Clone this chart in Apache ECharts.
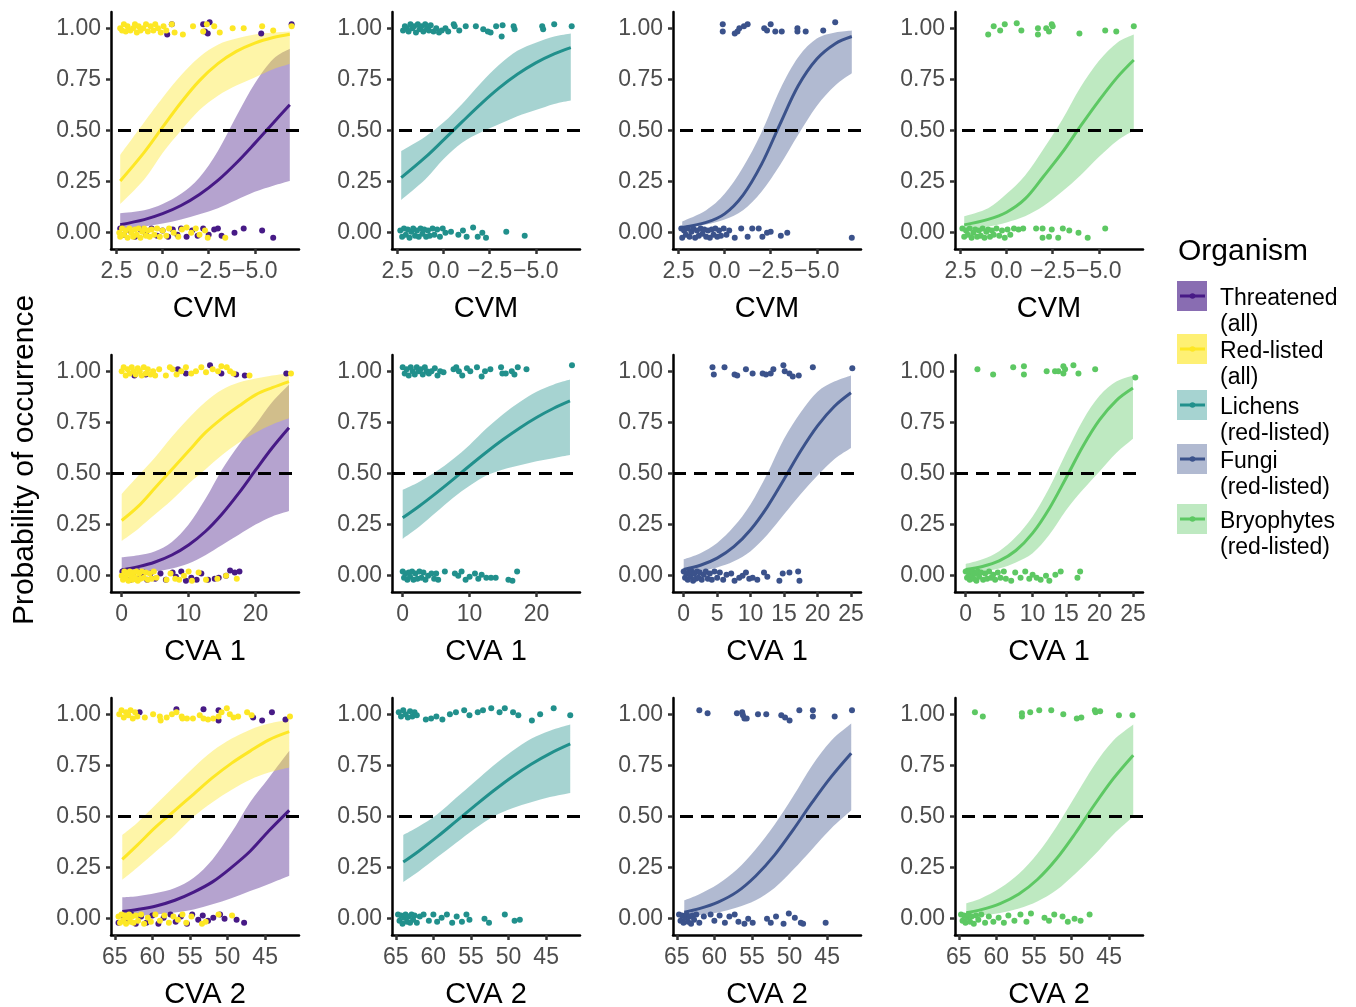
<!DOCTYPE html>
<html>
<head>
<meta charset="utf-8">
<script src="https://cdn.jsdelivr.net/npm/echarts@6/dist/echarts.min.js"></script>
<style>
  html, body { margin: 0; padding: 0; background: #fff; }
  #main { width: 1356px; height: 1007px; }
</style>
</head>
<body>
<div id="main"></div>
<script>
// ---- x grids the fitted curves were read at ----
const cvmX  = [2.3, 1, 0, -1, -2, -3, -4, -5, -6, -6.9];
const cva1X = [0, 2.5, 5, 7.5, 10, 12.5, 15, 17.5, 20, 22.5, 25];
const cva2X = [64, 62, 59.5, 57, 54.5, 52, 49.5, 47, 44.5, 41.8];

// ---- tick labels ----
const probTicks = [0, 0.25, 0.5, 0.75, 1];
const cvmTicks = [2.5, 0, -2.5, -5];
const cva1TicksWide = [0, 10, 20];
const cva1TicksFine = [0, 5, 10, 15, 20, 25];
const cva2Ticks = [65, 60, 55, 50, 45];

// ---- groups ----
const groupNames = ['Threatened\n(all)', 'Red-listed\n(all)', 'Lichens\n(red-listed)', 'Fungi\n(red-listed)', 'Bryophytes\n(red-listed)'];
const groupColors = ['#471A86', '#FDE725', '#21908C', '#3B528B', '#5DC863'];

// ---- CVM: fitted probability, lower, upper ----
const cvmThrFit = [0.039, 0.064, 0.093, 0.133, 0.187, 0.256, 0.341, 0.437, 0.537, 0.626];
const cvmThrLo  = [0.015, 0.03, 0.045, 0.065, 0.09, 0.12, 0.16, 0.2, 0.23, 0.253];
const cvmThrHi  = [0.095, 0.11, 0.14, 0.19, 0.27, 0.4, 0.57, 0.73, 0.85, 0.9];
const cvmRedFit = [0.253, 0.393, 0.516, 0.637, 0.744, 0.827, 0.887, 0.928, 0.955, 0.971];
const cvmRedLo  = [0.14, 0.26, 0.39, 0.5, 0.6, 0.67, 0.72, 0.76, 0.8, 0.825];
const cvmRedHi  = [0.38, 0.54, 0.66, 0.77, 0.86, 0.92, 0.95, 0.97, 0.98, 0.985];
const cvmLicFit = [0.269, 0.368, 0.454, 0.542, 0.628, 0.707, 0.775, 0.831, 0.875, 0.906];
const cvmLicLo  = [0.16, 0.26, 0.36, 0.44, 0.49, 0.53, 0.57, 0.6, 0.63, 0.647];
const cvmLicHi  = [0.4, 0.47, 0.54, 0.63, 0.73, 0.82, 0.89, 0.93, 0.96, 0.975];
const cvmFunFit = [0.025, 0.05, 0.092, 0.184, 0.334, 0.53, 0.72, 0.85, 0.925, 0.96];
const cvmFunLo  = [0.02, 0.04, 0.065, 0.11, 0.2, 0.33, 0.48, 0.62, 0.72, 0.78];
const cvmFunHi  = [0.055, 0.11, 0.19, 0.32, 0.49, 0.7, 0.86, 0.95, 0.98, 0.99];
const cvmBryFit = [0.038, 0.065, 0.1, 0.165, 0.275, 0.39, 0.52, 0.645, 0.76, 0.845];
const cvmBryLo  = [0.015, 0.03, 0.05, 0.08, 0.13, 0.2, 0.28, 0.37, 0.45, 0.5];
const cvmBryHi  = [0.08, 0.12, 0.19, 0.28, 0.41, 0.55, 0.71, 0.84, 0.93, 0.97];

// ---- CVA 1 ----
const cva1ThrFit = [0.028, 0.044, 0.067, 0.101, 0.15, 0.216, 0.302, 0.404, 0.516, 0.626, 0.724];
const cva1ThrLo  = [0.008, 0.012, 0.02, 0.035, 0.06, 0.1, 0.15, 0.2, 0.25, 0.29, 0.316];
const cva1ThrHi  = [0.09, 0.1, 0.12, 0.165, 0.25, 0.375, 0.52, 0.64, 0.74, 0.85, 0.935];
const cva1RedFit = [0.27, 0.34, 0.43, 0.52, 0.61, 0.7, 0.77, 0.83, 0.885, 0.92, 0.95];
const cva1RedLo  = [0.17, 0.23, 0.3, 0.37, 0.45, 0.52, 0.59, 0.65, 0.7, 0.74, 0.77];
const cva1RedHi  = [0.4, 0.49, 0.58, 0.68, 0.77, 0.85, 0.91, 0.945, 0.965, 0.98, 0.99];
const cva1LicFit = [0.283, 0.341, 0.404, 0.47, 0.538, 0.604, 0.666, 0.723, 0.774, 0.818, 0.855];
const cva1LicLo  = [0.18, 0.24, 0.31, 0.38, 0.44, 0.49, 0.52, 0.54, 0.56, 0.575, 0.59];
const cva1LicHi  = [0.42, 0.46, 0.51, 0.57, 0.64, 0.72, 0.79, 0.85, 0.9, 0.935, 0.96];
const cva1FunFit = [0.03, 0.051, 0.086, 0.142, 0.225, 0.337, 0.472, 0.611, 0.733, 0.828, 0.895];
const cva1FunLo  = [0.01, 0.022, 0.04, 0.07, 0.12, 0.2, 0.3, 0.4, 0.49, 0.57, 0.625];
const cva1FunHi  = [0.08, 0.11, 0.16, 0.24, 0.35, 0.5, 0.67, 0.8, 0.9, 0.95, 0.98];
const cva1BryFit = [0.03, 0.045, 0.072, 0.123, 0.208, 0.329, 0.478, 0.632, 0.762, 0.857, 0.918];
const cva1BryLo  = [0.01, 0.02, 0.035, 0.065, 0.11, 0.2, 0.32, 0.42, 0.51, 0.6, 0.67];
const cva1BryHi  = [0.057, 0.08, 0.12, 0.19, 0.29, 0.43, 0.6, 0.76, 0.88, 0.95, 0.98];

// ---- CVA 2 ----
const cva2ThrFit = [0.035, 0.045, 0.062, 0.09, 0.13, 0.18, 0.25, 0.33, 0.43, 0.53];
const cva2ThrLo  = [0.008, 0.012, 0.02, 0.03, 0.045, 0.07, 0.1, 0.135, 0.17, 0.21];
const cva2ThrHi  = [0.105, 0.11, 0.125, 0.15, 0.2, 0.29, 0.42, 0.57, 0.69, 0.82];
const cva2RedFit = [0.29, 0.36, 0.45, 0.53, 0.61, 0.69, 0.76, 0.82, 0.875, 0.915];
const cva2RedLo  = [0.19, 0.25, 0.33, 0.41, 0.5, 0.57, 0.63, 0.68, 0.715, 0.74];
const cva2RedHi  = [0.41, 0.47, 0.56, 0.65, 0.74, 0.82, 0.88, 0.925, 0.955, 0.972];
const cva2LicFit = [0.277, 0.329, 0.4, 0.476, 0.552, 0.626, 0.695, 0.756, 0.808, 0.855];
const cva2LicLo  = [0.18, 0.23, 0.3, 0.37, 0.44, 0.5, 0.54, 0.57, 0.595, 0.615];
const cva2LicHi  = [0.41, 0.45, 0.51, 0.59, 0.67, 0.75, 0.82, 0.88, 0.92, 0.95];
const cva2FunFit = [0.032, 0.049, 0.081, 0.131, 0.209, 0.311, 0.436, 0.569, 0.693, 0.81];
const cva2FunLo  = [0.01, 0.018, 0.03, 0.055, 0.09, 0.15, 0.24, 0.34, 0.44, 0.53];
const cva2FunHi  = [0.09, 0.12, 0.17, 0.24, 0.34, 0.46, 0.6, 0.75, 0.87, 0.955];
const cva2BryFit = [0.029, 0.044, 0.074, 0.121, 0.193, 0.293, 0.418, 0.555, 0.683, 0.8];
const cva2BryLo  = [0.01, 0.016, 0.028, 0.05, 0.085, 0.14, 0.22, 0.31, 0.41, 0.5];
const cva2BryHi  = [0.075, 0.1, 0.15, 0.22, 0.32, 0.45, 0.6, 0.75, 0.87, 0.95];

const cvmThrPts = [[-0.25,0.97],[-0.5,1.02],[-2.2,1.02],[-2.3,0.985],[-2.45,0.975],[-2.55,1.03],[-5.35,0.975],[-7.0,1.02],
  [2.3,0.02],[2.1,-0.01],[1.8,0.01],[1.5,-0.02],[1.2,0.015],[0.9,-0.01],[0.6,0.02],[0.3,-0.015],[0.0,0.01],[-0.3,-0.02],[-0.55,0.015],[-0.8,-0.01],[-1.0,0.02],[-1.3,-0.02],[-1.6,0.01],[-1.9,-0.015],[-2.2,0.02],[-2.5,-0.01],[-2.8,0.015],[-3.0,0.02],[-3.2,-0.015],[-3.9,0.0],[-4.4,0.02],[-5.4,0.01],[-6.0,-0.025]];
const cvmRedPts = [[2.3,1.0],[2.2,0.99],[2.1,1.02],[2.0,0.985],[1.9,1.01],[1.75,0.99],[1.6,1.0],[1.5,1.02],[1.4,0.98],[1.3,1.01],[1.2,0.99],[1.05,1.0],[0.9,1.02],[0.8,0.985],[0.65,1.01],[0.5,0.99],[0.4,1.02],[0.25,1.0],[0.1,0.98],[-0.05,1.01],[-0.2,0.99],[-0.5,1.02],[-0.65,0.98],[-1.1,0.97],[-1.65,1.01],[-2.2,0.985],[-2.4,1.02],[-2.8,1.01],[-3.1,0.98],[-3.8,1.0],[-4.4,1.0],[-5.4,1.01],[-6.0,0.99],[-7.0,1.01],
  [2.35,0.0],[2.3,-0.02],[2.2,0.02],[2.1,-0.01],[2.0,0.01],[1.9,-0.025],[1.8,0.02],[1.7,0.0],[1.6,-0.02],[1.5,0.015],[1.4,-0.01],[1.3,0.02],[1.2,-0.025],[1.1,0.005],[1.0,0.02],[0.9,-0.015],[0.8,0.01],[0.7,-0.02],[0.6,0.015],[0.45,-0.01],[0.3,0.02],[0.15,-0.02],[0.0,0.01],[-0.2,-0.015],[-0.35,0.02],[-0.6,0.0],[-0.85,-0.02],[-1.05,0.015],[-1.3,0.025],[-1.55,0.0],[-1.8,0.02],[-2.0,-0.01],[-2.3,0.01],[-2.45,-0.025],[-3.4,-0.025]];
const cvmLicPts = [[2.2,0.99],[2.1,1.01],[2.0,1.0],[1.9,0.985],[1.8,1.02],[1.7,1.0],[1.6,1.01],[1.5,0.98],[1.4,1.02],[1.3,0.995],[1.2,1.01],[1.1,0.985],[1.0,1.02],[0.9,1.0],[0.8,0.99],[0.7,1.015],[0.55,0.985],[0.4,1.0],[0.25,0.98],[0.1,0.99],[-0.1,1.0],[-0.25,0.985],[-0.55,1.02],[-0.6,1.01],[-0.85,0.99],[-1.2,1.01],[-1.75,1.01],[-2.15,0.995],[-2.4,0.985],[-2.55,0.98],[-2.85,1.01],[-3.15,0.96],[-3.2,1.015],[-3.8,1.01],[-3.85,0.995],[-5.35,1.01],[-5.4,0.995],[-6.0,1.02],[-6.95,1.01],
  [2.35,0.01],[2.25,-0.02],[2.15,0.02],[2.05,-0.01],[1.95,0.015],[1.85,-0.025],[1.75,0.005],[1.65,0.02],[1.55,-0.015],[1.45,0.01],[1.35,-0.02],[1.25,0.02],[1.15,-0.005],[1.05,0.015],[0.95,-0.02],[0.85,0.01],[0.75,-0.015],[0.6,0.02],[0.5,-0.01],[0.35,0.015],[0.2,-0.02],[0.05,0.02],[-0.1,0.0],[-0.4,0.005],[-0.8,-0.01],[-1.05,0.01],[-1.25,-0.02],[-1.6,0.025],[-1.85,-0.02],[-2.1,0.0],[-2.3,-0.025],[-3.4,0.005],[-4.4,-0.015]];
const cvmFunPts = [[0.1,1.02],[0.1,0.985],[-0.55,0.975],[-0.7,0.985],[-0.8,1.0],[-1.05,1.01],[-1.25,1.02],[-2.15,1.0],[-2.3,0.99],[-2.5,1.02],[-2.75,0.985],[-3.1,0.985],[-3.95,1.0],[-3.95,0.985],[-4.4,0.985],[-5.35,0.99],[-6.0,1.03],
  [2.35,0.02],[2.3,-0.025],[2.2,0.01],[2.1,-0.01],[2.0,0.02],[1.9,-0.02],[1.8,0.005],[1.7,0.02],[1.6,-0.025],[1.5,0.01],[1.4,-0.015],[1.3,0.02],[1.2,-0.005],[1.1,0.015],[1.0,-0.02],[0.9,0.01],[0.8,-0.025],[0.7,0.015],[0.6,-0.01],[0.5,0.02],[0.4,-0.02],[0.3,0.01],[0.2,-0.015],[0.05,0.02],[-0.1,-0.01],[-0.25,0.01],[-0.55,-0.025],[-0.9,0.02],[-1.25,-0.02],[-1.5,0.02],[-1.85,0.02],[-2.05,-0.02],[-2.3,0.0],[-2.5,0.005],[-3.05,-0.015],[-3.4,0.0],[-6.9,-0.025]];
const cvmBryPts = [[1.0,0.97],[0.7,1.01],[0.35,0.99],[0.1,1.02],[-0.55,1.025],[-0.8,0.99],[-1.7,1.0],[-1.7,0.97],[-2.15,1.0],[-2.3,0.985],[-2.45,1.02],[-2.5,1.01],[-3.95,0.975],[-5.35,0.99],[-5.95,0.985],[-6.9,1.01],
  [2.4,0.02],[2.3,-0.02],[2.2,0.01],[2.1,-0.01],[2.0,0.02],[1.9,-0.025],[1.8,0.0],[1.7,0.015],[1.6,-0.02],[1.5,0.01],[1.4,-0.015],[1.3,0.02],[1.2,-0.025],[1.1,0.005],[1.0,0.015],[0.9,-0.02],[0.8,0.01],[0.7,-0.01],[0.55,0.02],[0.4,-0.015],[0.25,0.01],[0.1,-0.025],[-0.05,0.015],[-0.2,-0.01],[-0.4,0.02],[-0.65,0.015],[-0.9,0.02],[-1.6,0.02],[-1.95,0.02],[-1.95,-0.025],[-2.3,-0.02],[-2.45,0.015],[-2.8,-0.025],[-3.05,0.02],[-3.4,0.01],[-3.9,0.0],[-4.4,-0.025],[-5.35,0.02]];

const cva1ThrPts = [[1.9,0.98],[3.6,0.985],[8.4,1.01],[9.6,0.99],[13.2,1.03],[14.9,0.99],[17.1,0.985],[18.4,0.98],[24.6,0.99],
  [0.1,0.02],[0.5,-0.01],[0.9,0.015],[1.3,-0.02],[1.7,0.01],[2.1,-0.015],[2.5,0.02],[2.9,-0.005],[3.3,0.015],[3.8,-0.02],[4.3,0.01],[5.0,-0.015],[5.8,0.01],[6.6,-0.02],[7.6,0.015],[8.1,-0.005],[8.9,0.02],[9.6,-0.025],[10.4,-0.01],[11.2,-0.02],[11.9,0.01],[12.9,-0.02],[13.9,-0.015],[14.5,-0.01],[15.6,0.0],[16.2,0.025],[16.9,0.015],[17.6,0.02]];
const cva1RedPts = [[0.0,1.0],[0.3,1.02],[0.6,0.98],[0.9,1.01],[1.2,0.99],[1.5,1.02],[1.8,1.0],[2.1,0.985],[2.4,1.015],[2.7,1.0],[3.0,0.98],[3.3,1.02],[3.6,0.99],[3.9,1.01],[4.3,0.985],[4.7,1.0],[5.0,0.98],[5.6,1.01],[6.6,0.98],[7.2,1.02],[7.6,1.01],[8.2,0.985],[8.9,1.0],[9.6,1.02],[10.4,0.99],[11.1,1.0],[11.9,1.02],[12.6,0.995],[13.6,1.01],[14.4,1.0],[14.9,1.025],[15.7,1.02],[16.2,1.0],[16.7,0.99],[19.1,0.98],[25.3,0.99],
  [0.0,0.0],[0.2,-0.02],[0.4,0.02],[0.6,-0.01],[0.8,0.01],[1.0,-0.025],[1.2,0.02],[1.4,0.0],[1.6,-0.02],[1.8,0.015],[2.0,-0.01],[2.2,0.02],[2.4,-0.025],[2.6,0.01],[2.8,-0.015],[3.0,0.02],[3.3,-0.01],[3.6,0.015],[3.9,-0.02],[4.2,0.01],[4.5,-0.015],[4.8,0.02],[5.2,-0.01],[6.7,-0.02],[7.3,0.01],[8.0,-0.015],[8.6,-0.02],[9.3,0.0],[10.0,0.02],[10.5,-0.025],[11.5,0.015],[12.6,-0.02],[14.3,-0.015],[15.6,0.0],[17.2,-0.015]];
const cva1LicPts = [[0.0,1.02],[0.3,0.99],[0.6,1.01],[0.9,0.98],[1.2,1.02],[1.5,1.0],[1.8,0.985],[2.1,1.02],[2.4,1.0],[2.7,1.01],[3.0,0.985],[3.3,1.02],[3.6,1.0],[3.9,0.99],[4.3,1.0],[4.8,1.015],[5.2,0.98],[5.6,1.0],[6.1,0.995],[7.6,1.01],[8.0,1.02],[8.4,1.0],[8.9,0.98],[9.6,1.015],[10.1,1.0],[11.1,1.02],[11.8,0.975],[12.3,1.0],[13.1,1.01],[14.7,1.02],[14.9,0.99],[15.4,0.99],[16.3,1.0],[16.7,0.985],[17.2,1.02],[18.5,1.01],[25.3,1.03],
  [0.0,0.02],[0.2,-0.01],[0.4,0.01],[0.7,-0.02],[0.9,0.015],[1.1,-0.005],[1.4,0.02],[1.6,-0.02],[1.9,0.01],[2.2,-0.015],[2.5,0.02],[2.8,-0.01],[3.1,0.015],[3.4,-0.02],[3.8,0.0],[4.3,0.01],[4.7,-0.015],[5.0,0.01],[5.3,-0.02],[6.3,0.02],[7.8,0.01],[8.3,0.0],[8.8,0.02],[9.4,-0.02],[10.0,-0.005],[10.8,0.01],[11.3,-0.015],[11.8,0.005],[12.5,-0.01],[13.2,-0.01],[13.9,-0.01],[15.8,-0.02],[16.4,-0.025],[17.1,0.02]];
const cva1FunPts = [[4.3,1.02],[4.5,0.985],[6.1,1.02],[7.6,0.985],[8.0,0.98],[9.3,1.01],[10.3,0.99],[11.8,0.99],[12.3,0.985],[13.0,0.99],[13.4,1.01],[14.9,1.03],[15.1,1.0],[15.8,0.99],[16.3,0.975],[17.2,0.98],[19.3,1.02],[25.2,1.015],
  [0.0,0.02],[0.2,-0.01],[0.4,0.01],[0.6,-0.02],[0.8,0.015],[1.0,-0.005],[1.2,0.02],[1.4,-0.025],[1.6,0.01],[1.8,-0.015],[2.0,0.02],[2.2,-0.01],[2.4,0.015],[2.7,-0.02],[3.0,0.005],[3.3,0.02],[3.6,-0.015],[3.9,0.01],[4.2,-0.02],[4.6,0.02],[5.0,-0.01],[5.4,0.015],[5.9,-0.02],[6.4,0.005],[7.1,0.01],[7.6,-0.025],[8.3,-0.01],[8.8,0.0],[9.3,0.015],[9.8,-0.015],[10.3,-0.01],[11.0,-0.02],[12.0,0.015],[12.5,-0.005],[14.3,-0.025],[14.8,0.01],[15.8,0.015],[17.1,0.02],[17.3,-0.025]];
const cva1BryPts = [[1.75,1.01],[4.1,0.985],[7.1,1.02],[8.7,1.025],[8.7,0.985],[12.1,1.0],[13.35,1.0],[13.85,1.0],[14.6,1.025],[14.6,0.99],[14.85,1.01],[16.1,1.03],[16.85,0.99],[19.35,1.01],[25.35,0.97],
  [0.0,0.02],[0.2,-0.01],[0.4,0.015],[0.6,-0.02],[0.8,0.005],[1.0,0.02],[1.2,-0.015],[1.4,0.01],[1.6,-0.025],[1.8,0.02],[2.0,-0.005],[2.3,0.015],[2.6,-0.02],[2.9,0.01],[3.2,-0.015],[3.5,0.02],[3.8,-0.01],[4.1,0.005],[4.4,-0.02],[4.8,0.015],[5.2,-0.01],[5.7,0.02],[6.0,-0.015],[6.8,-0.025],[7.4,0.015],[8.2,-0.01],[8.9,0.02],[9.5,-0.015],[10.0,0.005],[10.6,-0.01],[11.2,-0.02],[12.0,0.0],[12.5,-0.025],[13.4,0.005],[14.2,0.02],[16.7,-0.01],[17.1,0.02]];

const cva2ThrPts = [[61.7,1.01],[56.8,1.025],[53.2,1.025],[51.2,1.02],[51.2,0.97],[46.6,0.985],[45.4,0.97],[44.1,1.01],[42.3,0.975],
  [64.5,-0.02],[64.0,0.015],[63.4,-0.01],[62.8,0.02],[62.2,-0.025],[61.5,0.01],[60.8,-0.02],[60.0,0.015],[59.2,-0.025],[58.5,0.005],[57.6,0.02],[56.9,-0.015],[56.2,0.01],[55.4,-0.025],[54.7,0.02],[53.9,-0.005],[53.3,0.015],[52.6,-0.01],[51.9,0.005],[51.0,0.02],[50.4,0.0],[48.8,-0.005],[47.8,-0.02]];
const cva2RedPts = [[64.4,1.0],[64.1,1.02],[63.8,0.985],[63.5,1.01],[63.2,0.995],[62.9,1.02],[62.6,0.98],[62.3,1.01],[62.0,0.99],[61.0,0.985],[59.9,1.0],[59.0,0.99],[58.9,0.97],[58.1,0.985],[57.4,1.0],[56.8,1.01],[56.1,0.99],[56.0,0.98],[55.4,0.98],[54.6,0.98],[53.7,0.995],[53.2,0.98],[52.6,0.975],[51.9,0.98],[51.2,0.99],[50.8,1.01],[50.1,1.03],[49.7,1.0],[49.2,0.985],[48.6,0.99],[47.4,1.01],[46.8,0.995],[41.7,0.99],
  [64.5,0.01],[64.3,-0.02],[64.1,0.02],[63.9,-0.01],[63.7,0.015],[63.5,-0.025],[63.3,0.005],[63.1,0.02],[62.9,-0.015],[62.7,0.01],[62.5,-0.02],[62.2,0.015],[61.9,-0.01],[61.5,0.02],[61.1,-0.025],[60.6,0.005],[60.2,-0.015],[59.6,0.02],[59.0,-0.01],[58.4,0.015],[57.8,-0.02],[57.2,0.01],[56.6,-0.005],[56.0,0.02],[55.5,-0.02],[54.8,0.01],[53.4,-0.025],[52.9,-0.015],[51.2,0.02],[49.4,0.015]];
const cva2LicPts = [[64.6,1.01],[64.3,0.99],[64.0,1.02],[63.7,1.0],[63.4,0.985],[63.1,1.015],[62.8,0.99],[62.5,1.01],[62.2,0.995],[61.0,0.975],[60.3,0.98],[59.6,0.99],[58.8,0.975],[57.8,1.0],[57.0,1.01],[55.9,1.02],[55.2,0.995],[54.1,1.01],[53.4,1.02],[52.3,1.03],[51.2,1.01],[50.5,1.03],[49.4,1.01],[48.7,0.995],[46.9,0.97],[45.8,1.0],[44.0,1.03],[41.8,0.995],
  [64.7,0.02],[64.5,-0.01],[64.3,0.015],[64.1,-0.025],[63.9,0.005],[63.7,0.02],[63.5,-0.015],[63.3,0.01],[63.1,-0.02],[62.9,0.02],[62.7,-0.005],[62.5,0.015],[62.2,-0.02],[61.8,0.01],[61.3,0.02],[60.6,-0.01],[60.0,0.02],[59.5,-0.015],[58.9,0.005],[58.2,0.02],[57.5,-0.02],[56.9,0.01],[56.2,-0.015],[55.6,0.02],[55.2,-0.005],[53.2,0.0],[52.6,-0.02],[50.5,0.02],[49.2,-0.01],[48.5,-0.005]];
const cva2FunPts = [[62.0,1.02],[60.9,1.005],[57.0,1.005],[56.3,1.01],[56.2,0.995],[56.0,0.98],[55.7,0.98],[54.2,1.0],[53.1,1.0],[51.1,0.995],[50.6,0.985],[50.0,0.97],[48.7,1.02],[46.9,1.02],[46.9,0.99],[44.0,0.99],[41.7,1.02],
  [64.7,0.02],[64.5,-0.01],[64.3,0.015],[64.1,-0.02],[63.9,0.005],[63.7,0.02],[63.5,-0.015],[63.3,0.01],[63.1,-0.025],[62.9,0.015],[62.7,-0.005],[62.4,0.02],[62.0,-0.02],[61.4,0.01],[60.5,0.02],[60.0,-0.01],[59.3,0.015],[58.6,-0.02],[58.0,0.01],[57.3,0.02],[56.8,-0.015],[56.0,-0.025],[55.5,0.0],[54.9,-0.02],[53.0,0.0],[52.5,-0.02],[51.8,0.01],[50.8,-0.025],[50.1,0.025],[49.3,0.005],[48.5,-0.02],[48.2,-0.025],[45.2,-0.02]];
const cva2BryPts = [[62.85,1.01],[61.8,0.99],[56.6,0.99],[56.6,1.005],[55.5,1.01],[54.3,1.02],[52.7,1.02],[51.1,1.0],[49.3,0.98],[48.7,0.985],[46.9,1.02],[46.8,1.01],[46.2,1.015],[43.7,0.995],[41.9,0.995],
  [64.7,0.02],[64.5,-0.01],[64.3,0.015],[64.1,-0.02],[63.9,0.005],[63.7,0.02],[63.5,-0.015],[63.3,0.01],[63.0,-0.025],[62.7,0.015],[62.4,-0.005],[62.0,0.02],[61.5,-0.02],[61.0,0.01],[60.4,-0.015],[59.7,0.005],[59.0,-0.02],[58.4,0.015],[57.6,-0.01],[56.8,0.02],[56.0,-0.015],[55.4,0.025],[53.6,0.005],[53.0,-0.01],[52.3,0.02],[51.2,0.01],[50.5,-0.015],[49.6,0.0],[48.8,-0.01],[47.6,0.02]];

// ---- layout ----
const FONT = '"Liberation Sans", Arial, Helvetica, sans-serif';
const colLeft = [111, 392, 673, 955];
const rowTop = [12, 355, 698];
const panelW = 188, panelH = 237;

const rows = [
  { title: 'CVM', xs: cvmX, min: -7.4, max: 2.8, inverse: true,
    ticks: [cvmTicks, cvmTicks, cvmTicks, cvmTicks],
    fmt: v => v.toFixed(1).replace('-', '\u2212'),
    curves: [[cvmThrFit, cvmThrLo, cvmThrHi], [cvmRedFit, cvmRedLo, cvmRedHi], [cvmLicFit, cvmLicLo, cvmLicHi], [cvmFunFit, cvmFunLo, cvmFunHi], [cvmBryFit, cvmBryLo, cvmBryHi]],
    pts: [cvmThrPts, cvmRedPts, cvmLicPts, cvmFunPts, cvmBryPts] },
  { title: 'CVA 1', xs: cva1X, min: -1.6, max: 26.5, inverse: false,
    ticks: [cva1TicksWide, cva1TicksWide, cva1TicksFine, cva1TicksFine],
    fmt: v => String(v),
    curves: [[cva1ThrFit, cva1ThrLo, cva1ThrHi], [cva1RedFit, cva1RedLo, cva1RedHi], [cva1LicFit, cva1LicLo, cva1LicHi], [cva1FunFit, cva1FunLo, cva1FunHi], [cva1BryFit, cva1BryLo, cva1BryHi]],
    pts: [cva1ThrPts, cva1RedPts, cva1LicPts, cva1FunPts, cva1BryPts] },
  { title: 'CVA 2', xs: cva2X, min: 40.5, max: 65.5, inverse: true,
    ticks: [cva2Ticks, cva2Ticks, cva2Ticks, cva2Ticks],
    fmt: v => String(v),
    curves: [[cva2ThrFit, cva2ThrLo, cva2ThrHi], [cva2RedFit, cva2RedLo, cva2RedHi], [cva2LicFit, cva2LicLo, cva2LicHi], [cva2FunFit, cva2FunLo, cva2FunHi], [cva2BryFit, cva2BryLo, cva2BryHi]],
    pts: [cva2ThrPts, cva2RedPts, cva2LicPts, cva2FunPts, cva2BryPts] }
];

function hexA(hex, a) {
  const n = parseInt(hex.slice(1), 16);
  return 'rgba(' + (n >> 16) + ',' + ((n >> 8) & 255) + ',' + (n & 255) + ',' + a + ')';
}

// smooth pixel path through points (catmull-rom as cubic beziers)
function curveCmds(p) {
  let d = '';
  for (let i = 0; i < p.length - 1; i++) {
    const p0 = p[Math.max(i - 1, 0)], p1 = p[i], p2 = p[i + 1], p3 = p[Math.min(i + 2, p.length - 1)];
    const c1x = p1[0] + (p2[0] - p0[0]) / 6, c1y = p1[1] + (p2[1] - p0[1]) / 6;
    const c2x = p2[0] - (p3[0] - p1[0]) / 6, c2y = p2[1] - (p3[1] - p1[1]) / 6;
    d += ' C' + c1x + ',' + c1y + ' ' + c2x + ',' + c2y + ' ' + p2[0] + ',' + p2[1];
  }
  return d;
}

function ribbonSeries(gi, xs, lo, hi, fill) {
  return {
    type: 'custom', xAxisIndex: gi, yAxisIndex: gi, silent: true, z: 1,
    data: xs.map((x, i) => [x, lo[i], hi[i]]),
    encode: { x: 0, y: [1, 2] },
    renderItem: function (params, api) {
      if (params.dataIndex !== 0) return null;
      const up = xs.map((x, i) => api.coord([x, hi[i]]));
      const dn = xs.map((x, i) => api.coord([x, lo[i]])).reverse();
      const d = 'M' + up[0][0] + ',' + up[0][1] + curveCmds(up) +
        ' L' + dn[0][0] + ',' + dn[0][1] + curveCmds(dn) + ' Z';
      return { type: 'path', shape: { pathData: d }, style: { fill: fill, stroke: null } };
    }
  };
}

const grids = [], xAxes = [], yAxes = [], series = [];

rows.forEach((row, r) => {
  for (let c = 0; c < 4; c++) {
    const gi = r * 4 + c;
    grids.push({ left: colLeft[c], top: rowTop[r], width: panelW, height: panelH, outerBoundsMode: 'none' });
    xAxes.push({
      gridIndex: gi, type: 'value', min: row.min, max: row.max, inverse: row.inverse,
      splitLine: { show: false },
      axisLine: { onZero: false, lineStyle: { color: '#000', width: 2.5 } },
      axisTick: { customValues: row.ticks[c], length: 5, lineStyle: { color: '#333', width: 2.5 } },
      axisLabel: { customValues: row.ticks[c], formatter: row.fmt, color: '#4D4D4D', fontSize: 23, fontFamily: FONT, margin: 11 },
      name: row.title, nameLocation: 'middle', nameGap: 45,
      nameTextStyle: { fontSize: 29, color: '#000', fontFamily: FONT }
    });
    yAxes.push({
      gridIndex: gi, type: 'value', min: -0.08, max: 1.08,
      splitLine: { show: false },
      axisLine: { onZero: false, lineStyle: { color: '#000', width: 2.5 } },
      axisTick: { customValues: probTicks, length: 5, lineStyle: { color: '#333', width: 2.5 } },
      axisLabel: { customValues: probTicks, formatter: v => v.toFixed(2), color: '#4D4D4D', fontSize: 23, fontFamily: FONT, margin: 10 }
    });

    const groups = c === 0 ? [0, 1] : [c + 1];
    // confidence ribbons
    groups.forEach(g => {
      const [, lo, hi] = row.curves[g];
      series.push(ribbonSeries(gi, row.xs, lo, hi, hexA(groupColors[g], 0.4)));
    });
    // fitted lines
    groups.forEach((g, k) => {
      const fit = row.curves[g][0];
      const s = {
        type: 'line', xAxisIndex: gi, yAxisIndex: gi, silent: true,
        data: row.xs.map((x, i) => [x, fit[i]]), smooth: 0.35, symbol: 'none',
        lineStyle: { color: groupColors[g], width: 3 }, z: 3
      };
      if (k === 0) {
        s.markLine = {
          silent: true, symbol: ['none', 'none'], label: { show: false },
          lineStyle: { color: '#000', width: 3, type: [13, 8] },
          data: [{ yAxis: 0.5 }], z: 4
        };
      }
      series.push(s);
    });
    // observed points
    groups.forEach(g => {
      series.push({
        type: 'scatter', xAxisIndex: gi, yAxisIndex: gi, silent: true,
        data: row.pts[g], symbolSize: 6,
        itemStyle: { color: groupColors[g], opacity: 1 }, z: 6
      });
    });
  }
});

// ---- legend and shared y title, drawn as graphics ----
const keyTops = [281, 334, 390, 444, 504];
const keyAlpha = [0.64, 0.64, 0.4, 0.4, 0.4];
const graphics = [
  { type: 'text', x: 25, y: 460, rotation: Math.PI / 2,
    style: { text: 'Probability of occurrence', fontSize: 30, fontFamily: FONT, fill: '#000', align: 'center', verticalAlign: 'middle' } },
  { type: 'text', x: 1178, y: 237,
    style: { text: 'Organism', fontSize: 30, fontFamily: FONT, fill: '#000', align: 'left', verticalAlign: 'top' } }
];
groupNames.forEach((name, g) => {
  const t = keyTops[g];
  graphics.push({ type: 'rect', shape: { x: 1177, y: t, width: 30, height: 30 }, style: { fill: hexA(groupColors[g], keyAlpha[g]) } });
  graphics.push({ type: 'line', shape: { x1: 1180, y1: t + 15, x2: 1205, y2: t + 15 }, style: { stroke: groupColors[g], lineWidth: 3 } });
  graphics.push({ type: 'circle', shape: { cx: 1192.5, cy: t + 15, r: 2.8 }, style: { fill: groupColors[g] } });
  graphics.push({ type: 'text', x: 1220, y: t + 5,
    style: { text: name, fontSize: 23, lineHeight: 26, fontFamily: FONT, fill: '#000', align: 'left', verticalAlign: 'top' } });
});

const chart = echarts.init(document.getElementById('main'), null, { renderer: 'canvas' });
chart.setOption({
  animation: false,
  backgroundColor: '#fff',
  textStyle: { fontFamily: FONT },
  grid: grids,
  xAxis: xAxes,
  yAxis: yAxes,
  series: series,
  graphic: graphics
});
</script>
</body>
</html>
